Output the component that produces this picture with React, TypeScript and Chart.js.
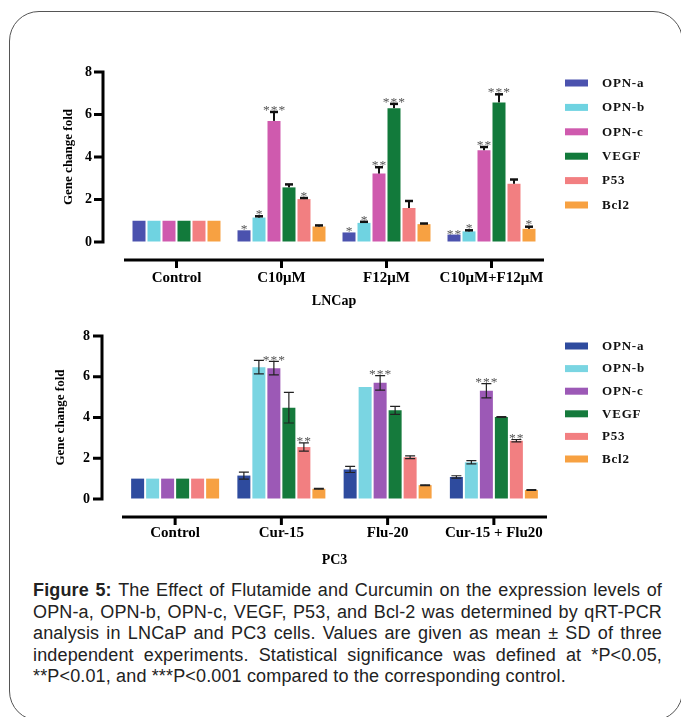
import React, { useEffect, useRef } from "react";
import { Chart, registerables } from "chart.js";

Chart.register(...registerables);

const SERIF = "'Liberation Serif', 'DejaVu Serif', serif";

// ---------- shared ----------
const genes = ["OPN-a", "OPN-b", "OPN-c", "VEGF", "P53", "Bcl2"];
const yTickValues = [0, 2, 4, 6, 8];
const yTitle = "Gene change fold";

// ---------- LNCaP ----------
const lncapCategories = ["Control", "C10μM", "F12μM", "C10μM+F12μM"];
const lncapOpnA = [1, 0.55, 0.45, 0.35];
const lncapOpnB = [1, 1.15, 0.9, 0.5];
const lncapOpnC = [1, 5.7, 3.22, 4.32];
const lncapVegf = [1, 2.57, 6.3, 6.57];
const lncapP53 = [1, 2.02, 1.6, 2.74];
const lncapBcl2 = [1, 0.73, 0.84, 0.62];

const lncapOpnAErr = [0, 0, 0, 0];
const lncapOpnBErr = [0, 0.06, 0.05, 0.05];
const lncapOpnCErr = [0, 0.42, 0.3, 0.15];
const lncapVegfErr = [0, 0.14, 0.2, 0.38];
const lncapP53Err = [0, 0.05, 0.33, 0.2];
const lncapBcl2Err = [0, 0.05, 0.03, 0.1];

const lncapOpnAStars = ["", "*", "*", "**"];
const lncapOpnBStars = ["", "*", "*", "*"];
const lncapOpnCStars = ["", "***", "**", "**"];
const lncapVegfStars = ["", "", "***", "***"];
const lncapP53Stars = ["", "*", "", ""];
const lncapBcl2Stars = ["", "", "", "*"];

const lncapColors = ["#4b52ae", "#6fd3e1", "#cf5aae", "#127a3b", "#f27f81", "#f7a142"];

// ---------- PC3 ----------
const pc3Categories = ["Control", "Cur-15", "Flu-20", "Cur-15 + Flu20"];
const pc3OpnA = [1, 1.15, 1.45, 1.08];
const pc3OpnB = [1, 6.47, 5.5, 1.8];
const pc3OpnC = [1, 6.42, 5.7, 5.31];
const pc3Vegf = [1, 4.48, 4.35, 4.02];
const pc3P53 = [1, 2.55, 2.05, 2.86];
const pc3Bcl2 = [1, 0.5, 0.68, 0.44];

const pc3OpnAErr = [0, 0.17, 0.15, 0.06];
const pc3OpnBErr = [0, 0.33, 0, 0.08];
const pc3OpnCErr = [0, 0.33, 0.36, 0.35];
const pc3VegfErr = [0, 0.75, 0.2, 0.02];
const pc3P53Err = [0, 0.2, 0.07, 0.06];
const pc3Bcl2Err = [0, 0.02, 0.02, 0.02];

const pc3OpnAStars = ["", "", "", ""];
const pc3OpnBStars = ["", "", "", ""];
const pc3OpnCStars = ["", "***", "***", "***"];
const pc3VegfStars = ["", "", "", ""];
const pc3P53Stars = ["", "**", "", "**"];
const pc3Bcl2Stars = ["", "", "", ""];

const pc3Colors = ["#2e4b9e", "#7ad5e2", "#9c59b6", "#157a3c", "#f27f81", "#f7a142"];

// ---------- caption ----------
const captionLines = [
  "The Effect of Flutamide and Curcumin on the expression levels of",
  "OPN-a, OPN-b, OPN-c, VEGF, P53, and Bcl-2 was determined by qRT-PCR",
  "analysis in LNCaP and PC3 cells. Values are given as mean ± SD of three",
  "independent experiments. Statistical significance was defined at *P<0.05,",
  "**P<0.01, and ***P<0.001 compared to the corresponding control.",
];

type Cfg = {
  title: string;
  categories: string[];
  series: number[][];
  errors: number[][];
  stars: string[][];
  colors: string[];
  twoSided: boolean;
  errColor: string;
  errWidth: number;
  capWidth: number;
  capHalf: number;
  padLeft: number;
  padRight: number;
  padTop: number;
  yWidth: number;
  xHeight: number;
  xTickPad: number;
  titlePadBottom: number;
  yGap: number;
  xGap: number;
  legendTop: number;
  legendStep: number;
  catPct: number;
  barPct: number;
};

const lncapCfg: Cfg = {
  title: "LNCap",
  categories: lncapCategories,
  series: [lncapOpnA, lncapOpnB, lncapOpnC, lncapVegf, lncapP53, lncapBcl2],
  errors: [lncapOpnAErr, lncapOpnBErr, lncapOpnCErr, lncapVegfErr, lncapP53Err, lncapBcl2Err],
  stars: [lncapOpnAStars, lncapOpnBStars, lncapOpnCStars, lncapVegfStars, lncapP53Stars, lncapBcl2Stars],
  colors: lncapColors,
  twoSided: false,
  errColor: "#111",
  errWidth: 2,
  capWidth: 2.5,
  capHalf: 4,
  padLeft: 61,
  padRight: 137,
  padTop: 22,
  yWidth: 63,
  xHeight: 68,
  xTickPad: 27,
  titlePadBottom: 0,
  yGap: 21,
  xGap: 18,
  legendTop: 33,
  legendStep: 24.4,
  catPct: 0.857,
  barPct: 0.867,
};

const pc3Cfg: Cfg = {
  title: "PC3",
  categories: pc3Categories,
  series: [pc3OpnA, pc3OpnB, pc3OpnC, pc3Vegf, pc3P53, pc3Bcl2],
  errors: [pc3OpnAErr, pc3OpnBErr, pc3OpnCErr, pc3VegfErr, pc3P53Err, pc3Bcl2Err],
  stars: [pc3OpnAStars, pc3OpnBStars, pc3OpnCStars, pc3VegfStars, pc3P53Stars, pc3Bcl2Stars],
  colors: pc3Colors,
  twoSided: true,
  errColor: "#222",
  errWidth: 1.2,
  capWidth: 1.2,
  capHalf: 5,
  padLeft: 53,
  padRight: 134,
  padTop: 26,
  yWidth: 69,
  xHeight: 71,
  xTickPad: 25,
  titlePadBottom: 1,
  yGap: 20,
  xGap: 18,
  legendTop: 36,
  legendStep: 22.6,
  catPct: 0.847,
  barPct: 0.867,
};

function makeDecor(cfg: Cfg) {
  return {
    id: "decor",
    afterDatasetsDraw(chart: any) {
      const { ctx, chartArea } = chart;
      const xs = chart.scales.x;
      const ys = chart.scales.y;
      ctx.save();
      // error bars and significance stars
      cfg.series.forEach((vals, di) => {
        const meta = chart.getDatasetMeta(di);
        meta.data.forEach((bar: any, i: number) => {
          const v = vals[i];
          const e = cfg.errors[di][i];
          const s = cfg.stars[di][i];
          let top = ys.getPixelForValue(v);
          if (e > 0) {
            const hi = ys.getPixelForValue(v + e);
            const lo = cfg.twoSided ? ys.getPixelForValue(v - e) : top;
            ctx.strokeStyle = cfg.errColor;
            ctx.lineWidth = cfg.errWidth;
            ctx.beginPath();
            ctx.moveTo(bar.x, lo);
            ctx.lineTo(bar.x, hi);
            ctx.stroke();
            ctx.lineWidth = cfg.capWidth;
            ctx.beginPath();
            ctx.moveTo(bar.x - cfg.capHalf, hi);
            ctx.lineTo(bar.x + cfg.capHalf, hi);
            if (cfg.twoSided) {
              ctx.moveTo(bar.x - cfg.capHalf, lo);
              ctx.lineTo(bar.x + cfg.capHalf, lo);
            }
            ctx.stroke();
            top = hi - cfg.capWidth / 2;
          }
          if (s) {
            ctx.font = `13.5px ${SERIF}`;
            ctx.fillStyle = "#555";
            ctx.textAlign = "center";
            ctx.textBaseline = "alphabetic";
            (ctx as any).letterSpacing = "1px";
            ctx.fillText(s, bar.x + 0.5, top + 3);
          }
        });
      });
      (ctx as any).letterSpacing = "0px";
      // y axis
      ctx.strokeStyle = "#000";
      ctx.lineWidth = 3;
      const ax = chartArea.left - cfg.yGap;
      const yTop = ys.getPixelForValue(yTickValues[yTickValues.length - 1]);
      const yBot = ys.getPixelForValue(yTickValues[0]);
      ctx.beginPath();
      ctx.moveTo(ax, yTop - 1.5);
      ctx.lineTo(ax, yBot + 1.5);
      yTickValues.forEach((t) => {
        const py = ys.getPixelForValue(t);
        ctx.moveTo(ax - 9, py);
        ctx.lineTo(ax, py);
      });
      ctx.stroke();
      // x axis
      const ly = chartArea.bottom + cfg.xGap;
      ctx.beginPath();
      ctx.moveTo(chartArea.left, ly);
      ctx.lineTo(chartArea.right, ly);
      cfg.categories.forEach((_, i) => {
        const px = xs.getPixelForTick(i);
        ctx.moveTo(px, ly);
        ctx.lineTo(px, ly + 8);
      });
      ctx.stroke();
      // legend
      ctx.font = `bold 13px ${SERIF}`;
      (ctx as any).letterSpacing = "0.8px";
      ctx.textAlign = "left";
      ctx.textBaseline = "middle";
      genes.forEach((g, i) => {
        const cy = cfg.legendTop + i * cfg.legendStep;
        ctx.fillStyle = cfg.colors[i];
        ctx.fillRect(565, cy - 3.5, 23, 7);
        ctx.fillStyle = "#111";
        ctx.fillText(g, 602, cy + 0.5);
      });
      ctx.restore();
    },
  };
}

function BarChart({ cfg, top, height }: { cfg: Cfg; top: number; height: number }) {
  const ref = useRef<HTMLCanvasElement | null>(null);
  useEffect(() => {
    if (!ref.current) return;
    const chart = new Chart(ref.current, {
      type: "bar",
      data: {
        labels: cfg.categories,
        datasets: genes.map((g, i) => ({
          label: g,
          data: cfg.series[i],
          backgroundColor: cfg.colors[i],
          borderWidth: 0,
          categoryPercentage: cfg.catPct,
          barPercentage: cfg.barPct,
        })),
      },
      options: {
        responsive: false,
        animation: false,
        events: [],
        layout: { padding: { left: cfg.padLeft, right: cfg.padRight, top: cfg.padTop, bottom: 0 } },
        plugins: { legend: { display: false }, tooltip: { enabled: false } },
        scales: {
          x: {
            grid: { display: false, drawTicks: false },
            border: { display: false },
            ticks: {
              padding: cfg.xTickPad,
              color: "#000",
              maxRotation: 0,
              autoSkip: false,
              font: { family: SERIF, weight: "bold", size: 15 },
            },
            title: {
              display: true,
              text: cfg.title,
              color: "#000",
              font: { family: SERIF, weight: "bold", size: 14 },
              padding: { top: 0, bottom: cfg.titlePadBottom },
            },
            afterFit: (s: any) => {
              s.height = cfg.xHeight;
            },
          },
          y: {
            min: 0,
            max: 8,
            afterBuildTicks: (s: any) => {
              s.ticks = yTickValues.map((v) => ({ value: v }));
            },
            grid: {
              display: true,
              drawOnChartArea: false,
              drawTicks: true,
              tickLength: 32,
              tickColor: "rgba(0,0,0,0)",
              color: "rgba(0,0,0,0)",
            },
            border: { display: false },
            ticks: {
              padding: 0,
              color: "#000",
              font: { family: SERIF, weight: "bold", size: 14 },
            },
            title: {
              display: true,
              text: yTitle,
              color: "#000",
              font: { family: SERIF, weight: "bold", size: 13 },
              padding: { top: 0, bottom: 0 },
            },
            afterFit: (s: any) => {
              s.width = cfg.yWidth;
            },
          },
        },
      } as any,
      plugins: [makeDecor(cfg)],
    });
    return () => chart.destroy();
  }, [cfg]);
  return (
    <canvas
      ref={ref}
      width={681}
      height={height}
      style={{ position: "absolute", left: 0, top, width: 681, height }}
    />
  );
}

export default function App() {
  return (
    <div
      style={{
        position: "absolute",
        left: 0,
        top: 0,
        width: 681,
        height: 717,
        overflow: "hidden",
        background: "#fff",
      }}
    >
      <div
        style={{
          position: "absolute",
          left: 9,
          top: 11,
          width: 674,
          height: 710,
          border: "1px solid #555",
          borderRadius: 30,
          boxSizing: "border-box",
        }}
      />
      <BarChart cfg={lncapCfg} top={50} height={260} />
      <BarChart cfg={pc3Cfg} top={310} height={260} />
      <div
        style={{
          position: "absolute",
          left: 33,
          top: 580,
          width: 629,
          fontFamily: "'Liberation Sans', Arial, sans-serif",
          fontSize: 18,
          letterSpacing: "0.15px",
          lineHeight: "21.5px",
          color: "#222",
        }}
      >
        {captionLines.map((line, i) => (
          <div
            key={i}
            style={{
              whiteSpace: "nowrap",
              textAlign: "justify",
              textAlignLast: i < captionLines.length - 1 ? "justify" : "left",
            }}
          >
            {i === 0 ? <b>Figure 5: </b> : null}
            {line}
          </div>
        ))}
      </div>
    </div>
  );
}
